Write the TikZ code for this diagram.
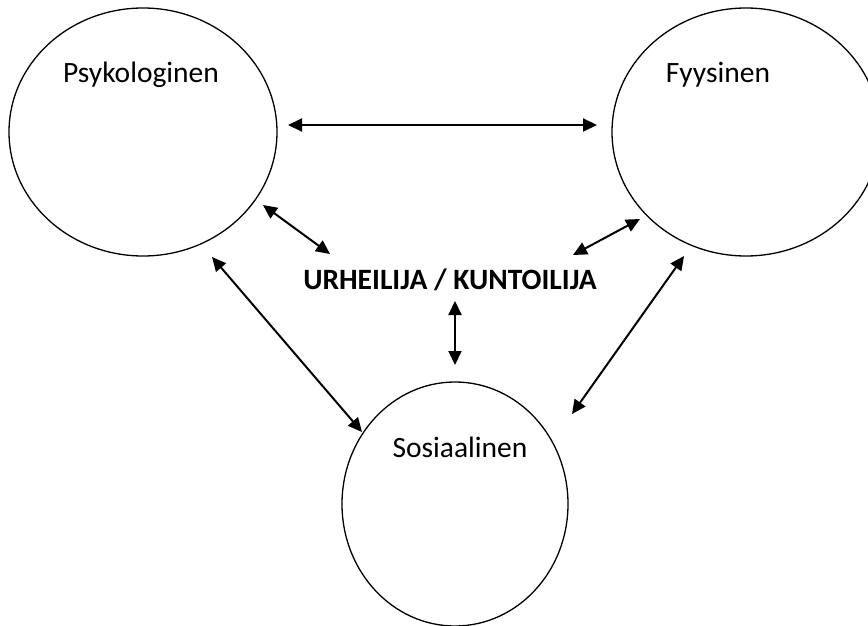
\documentclass[tikz,border=0pt]{standalone}
\usepackage{fontspec}
\setmainfont{Carlito}
\usetikzlibrary{shapes.geometric,arrows.meta}
\begin{document}
\begin{tikzpicture}[x=1pt,y=-1pt,
  circ/.style={draw,ellipse,inner sep=0pt,line width=1.3pt},
  lbl/.style={font=\fontsize{29.5}{35}\selectfont,inner sep=0pt},
  conn/.style={line width=2pt,{Triangle[length=14pt,width=13pt]}-{Triangle[length=14pt,width=13pt]}}]
\useasboundingbox (0,0) rectangle (868,626);
\node[circ,minimum width=268pt,minimum height=248pt] (psy) at (143,132) {};
\node[circ,minimum width=268pt,minimum height=248pt] (fys) at (746,132) {};
\node[circ,minimum width=226pt,minimum height=244pt] (sos) at (455,504) {};
\node[lbl] (psyl) at (141,75) {Psykologinen};
\node[lbl] (fysl) at (718,75) {Fyysinen};
\node[lbl] (sosl) at (460,447) {Sosiaalinen};
\node[lbl,font=\fontsize{29.5}{35}\selectfont\bfseries] (ath) at (450,280) {URHEILIJA / KUNTOILIJA};
\coordinate (a1) at (288,125); \coordinate (a2) at (597,125);
\coordinate (b1) at (263,205); \coordinate (b2) at (330,254);
\coordinate (c1) at (640,219); \coordinate (c2) at (573,255);
\coordinate (d1) at (455,301); \coordinate (d2) at (455,365);
\coordinate (e1) at (212,257); \coordinate (e2) at (362,432);
\coordinate (f1) at (684,256); \coordinate (f2) at (572,414);
\draw[conn] (a1) -- (a2);
\draw[conn] (b1) -- (b2);
\draw[conn] (c1) -- (c2);
\draw[conn] (d1) -- (d2);
\draw[conn] (e1) -- (e2);
\draw[conn] (f1) -- (f2);
\end{tikzpicture}
\end{document}
